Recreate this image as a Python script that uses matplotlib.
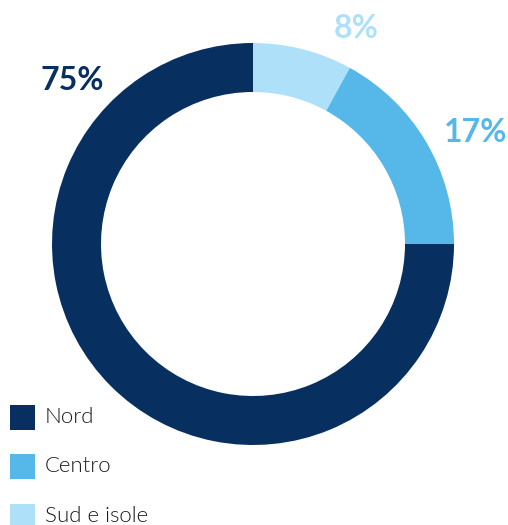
import matplotlib.pyplot as plt
from matplotlib.patches import Rectangle

# Data
regions = ["Sud e isole", "Centro", "Nord"]
shares = [8, 17, 75]
colors = ["#aee1f9", "#56b8e8", "#072f5f"]
legend_order = ["Nord", "Centro", "Sud e isole"]

W, H = 508, 525
fig = plt.figure(figsize=(W / 100, H / 100), dpi=100)
ax = fig.add_axes([0, 0, 1, 1])

cx, cy = 253, H - 244
ax.pie(shares, colors=colors, startangle=90, counterclock=False,
       center=(cx, cy), radius=201,
       wedgeprops=dict(width=49, linewidth=0))

ax.set_xlim(0, W)
ax.set_ylim(0, H)
ax.set_aspect("equal")
ax.axis("off")

# Percent labels
label_pos = {"Nord": (72, 80), "Centro": (476, 132), "Sud e isole": (356, 28)}
for name, val, col in zip(regions, shares, colors):
    x, y = label_pos[name]
    ax.text(x, H - y, f"{val}%", color=col, fontsize=23, fontweight="bold",
            family="Lato", ha="center", va="center")

# Legend
for i, name in enumerate(legend_order):
    yc = 417 + i * 49.5
    col = colors[regions.index(name)]
    ax.add_patch(Rectangle((10, H - yc - 12.5), 25, 25, color=col, lw=0))
    ax.text(45, H - yc, name, color="#1a1a1a", fontsize=16, fontweight=300,
            family="Lato", ha="left", va="center")

fig.savefig("out.png", dpi=100)
